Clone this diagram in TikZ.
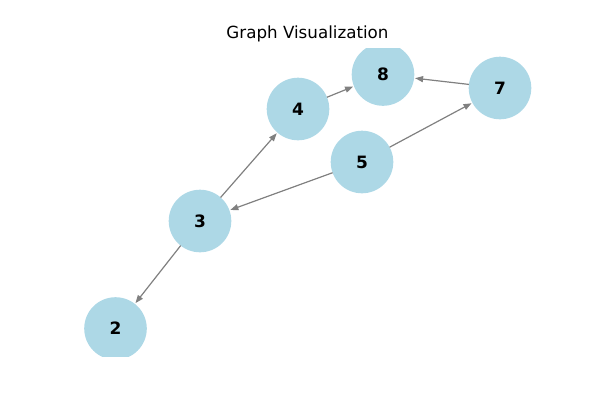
\documentclass[tikz,border=0pt]{standalone}
\usepackage{fontspec}
\setmainfont{DejaVu Sans}
\usetikzlibrary{arrows.meta}
\definecolor{nodeblue}{HTML}{ADD8E6}
\definecolor{edgegray}{HTML}{808080}
\tikzset{
  gnode/.style={circle, fill=nodeblue, minimum size=62.6pt, inner sep=0pt, outer sep=0pt, font=\fontsize{17}{20}\selectfont\bfseries},
  gedge/.style={draw=edgegray, line width=1.2pt, -{Triangle[length=8pt,width=6pt]}, shorten >=1pt}
}
\begin{document}
\begin{tikzpicture}[x=1pt,y=-1pt]
\useasboundingbox (0,0) rectangle (600,400);
\node (title) at (307.5,34) {\fontsize{16.7}{20}\selectfont Graph Visualization};
\begin{scope}
\clip (75,48) rectangle (540,356.5);
\node[gnode] (n8) at (383,74.5) {8};
\node[gnode] (n4) at (298,109) {4};
\node[gnode] (n7) at (500,88) {7};
\node[gnode] (n5) at (362,162) {5};
\node[gnode] (n3) at (200,221) {3};
\node[gnode] (n2) at (115.5,328.5) {2};
\draw[gedge] (n3) -- (n4);
\draw[gedge] (n4) -- (n8);
\draw[gedge] (n7) -- (n8);
\draw[gedge] (n5) -- (n7);
\draw[gedge] (n5) -- (n3);
\draw[gedge] (n3) -- (n2);
\end{scope}
\end{tikzpicture}
\end{document}
